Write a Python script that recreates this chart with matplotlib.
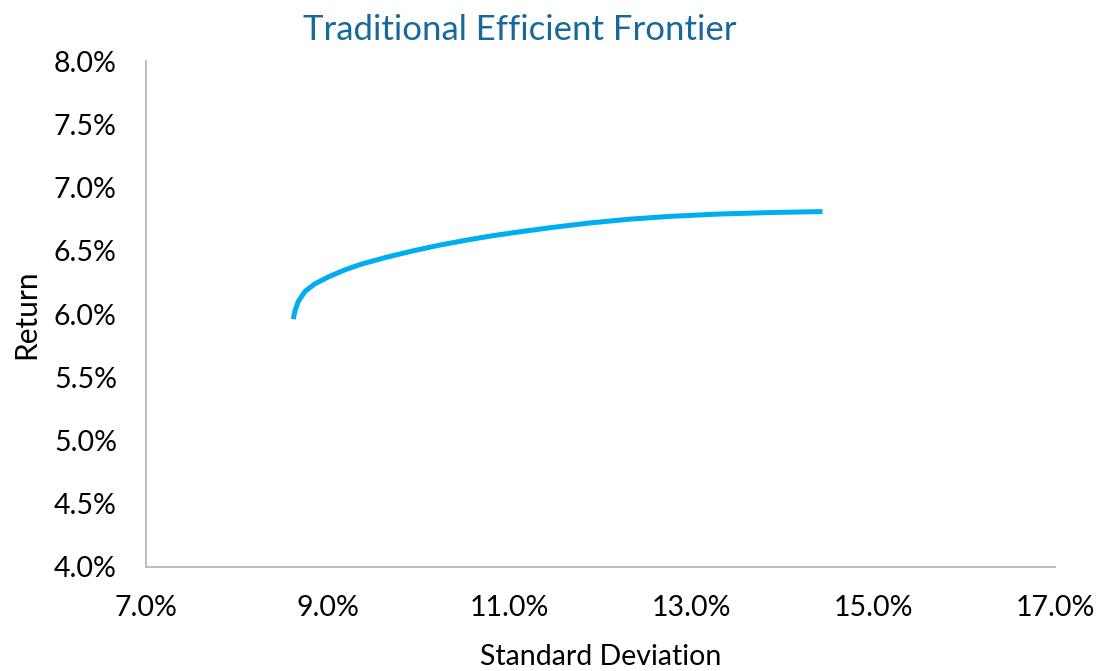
import matplotlib
matplotlib.use("Agg")
import matplotlib.pyplot as plt
from matplotlib.ticker import PercentFormatter

# Efficient frontier: standard deviation (%) vs expected return (%)
std_dev = [8.62, 8.64, 8.675, 8.75, 8.86, 9.01, 9.19, 9.37, 9.65, 9.94,
           10.23, 10.53, 10.82, 11.11, 11.44, 11.88, 12.32, 12.76, 13.28,
           13.90, 14.44]
returns = [5.96, 6.03, 6.10, 6.18, 6.24, 6.295, 6.35, 6.395, 6.45, 6.50,
           6.545, 6.585, 6.62, 6.65, 6.682, 6.72, 6.75, 6.772, 6.79,
           6.803, 6.81]

x_ticks = [7, 9, 11, 13, 15, 17]
y_ticks = [4.0, 4.5, 5.0, 5.5, 6.0, 6.5, 7.0, 7.5, 8.0]

plt.rcParams['font.family'] = ['Lato', 'DejaVu Sans']

fig = plt.figure(figsize=(10.98, 6.71), dpi=100)
ax = fig.add_axes([0.133, 0.155, 0.828, 0.754])

ax.plot(std_dev, returns, color='#00AEEF', linewidth=3.6,
        solid_capstyle='butt', solid_joinstyle='round')

ax.set_xlim(7, 17)
ax.set_ylim(4, 8)
ax.set_xticks(x_ticks)
ax.set_yticks(y_ticks)
ax.xaxis.set_major_formatter(PercentFormatter(decimals=1))
ax.yaxis.set_major_formatter(PercentFormatter(decimals=1))

for side in ('top', 'right'):
    ax.spines[side].set_visible(False)
for side in ('left', 'bottom'):
    ax.spines[side].set_color('#BFBFBF')
    ax.spines[side].set_linewidth(1.5)

ax.tick_params(axis='both', length=0, labelsize=20.5, colors='black')
ax.tick_params(axis='x', pad=20)
ax.tick_params(axis='y', pad=21)

ax.set_xlabel('Standard Deviation', fontsize=20.5, labelpad=17)
ax.set_ylabel('Return', fontsize=21.5, labelpad=10)
fig.text(0.473, 0.956, 'Traditional Efficient Frontier', ha='center', va='center',
         fontsize=25, color='#17699A')

fig.savefig('out.png', dpi=100)
